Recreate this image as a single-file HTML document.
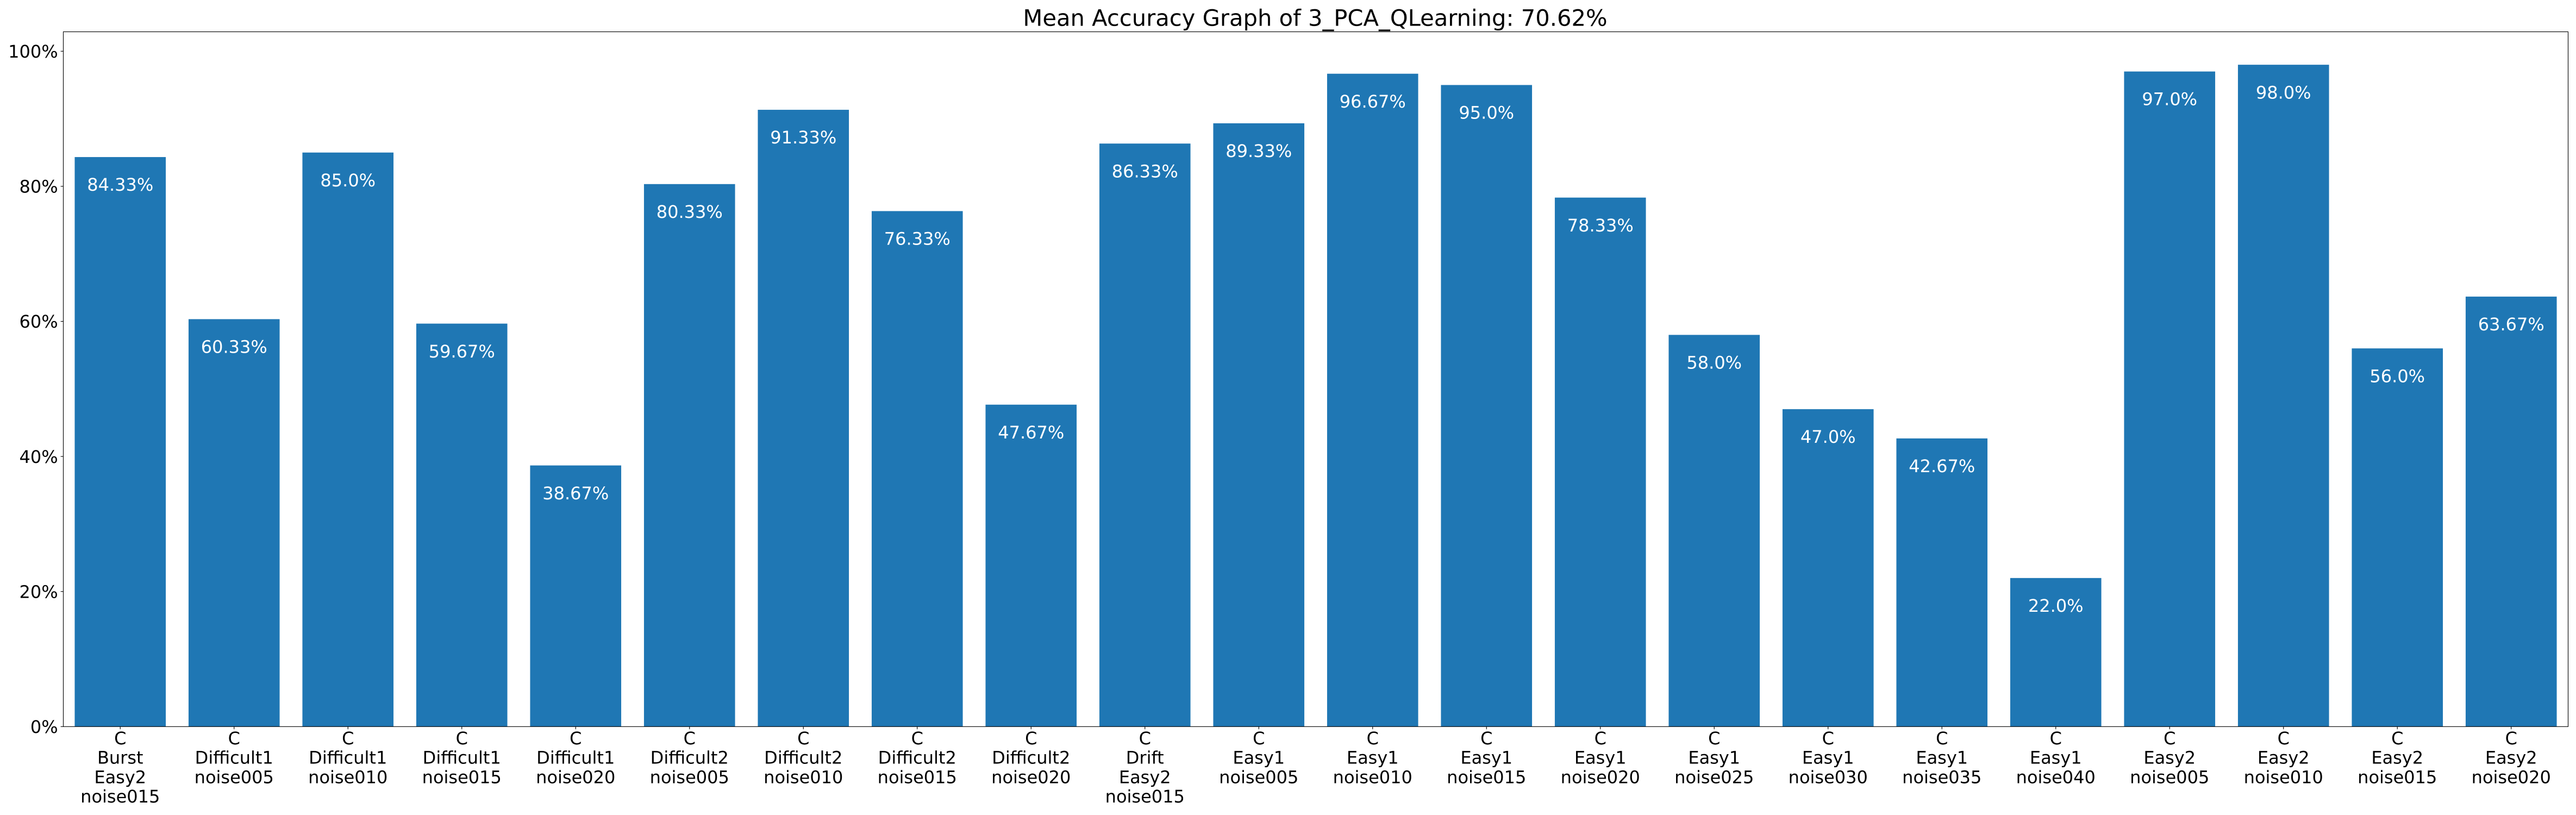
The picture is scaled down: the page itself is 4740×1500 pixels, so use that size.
<!DOCTYPE html>
<html lang="en">
<head>
<meta charset="utf-8">
<title>Mean Accuracy Graph of 3_PCA_QLearning: 70.62%</title>
<style>
  html, body { margin: 0; padding: 0; background: #fff; }
  svg { display: block; }
  text { font-family: "DejaVu Sans", "Liberation Sans", sans-serif; text-rendering: geometricPrecision; }
</style>
</head>
<body>
<svg id="chart" xmlns="http://www.w3.org/2000/svg" width="4740" height="1500" viewBox="0 0 4740 1500">
  <rect x="0" y="0" width="4740" height="1500" fill="#ffffff"/>
  <text x="2420" y="47.5" font-size="41.67" text-anchor="middle" fill="#000000">Mean Accuracy Graph of 3_PCA_QLearning: 70.62%</text>
  <g id="bars"></g>
  <g id="value-labels"></g>
  <g id="y-axis"></g>
  <g id="x-axis"></g>
  <rect x="116.5" y="58.5" width="4609" height="1278.8" fill="none" stroke="#000000" stroke-width="1.11"/>
</svg>
<script>
const categories = [
  "C\nBurst\nEasy2\nnoise015",
  "C\nDifficult1\nnoise005",
  "C\nDifficult1\nnoise010",
  "C\nDifficult1\nnoise015",
  "C\nDifficult1\nnoise020",
  "C\nDifficult2\nnoise005",
  "C\nDifficult2\nnoise010",
  "C\nDifficult2\nnoise015",
  "C\nDifficult2\nnoise020",
  "C\nDrift\nEasy2\nnoise015",
  "C\nEasy1\nnoise005",
  "C\nEasy1\nnoise010",
  "C\nEasy1\nnoise015",
  "C\nEasy1\nnoise020",
  "C\nEasy1\nnoise025",
  "C\nEasy1\nnoise030",
  "C\nEasy1\nnoise035",
  "C\nEasy1\nnoise040",
  "C\nEasy2\nnoise005",
  "C\nEasy2\nnoise010",
  "C\nEasy2\nnoise015",
  "C\nEasy2\nnoise020"
];
const accuracyValues = [84.33, 60.33, 85.0, 59.67, 38.67, 80.33, 91.33, 76.33, 47.67, 86.33, 89.33, 96.67, 95.0, 78.33, 58.0, 47.0, 42.67, 22.0, 97.0, 98.0, 56.0, 63.67];
const yTickValues = [0, 20, 40, 60, 80, 100];

const NS = "http://www.w3.org/2000/svg";
const plotLeft = 116.5, plotWidth = 4609, zeroY = 1337.3, hundredY = 94.3;
const fontSize = 32, lineStep = 35.7, tickLen = 4.86, axisColor = "#000000";

function xScale(i) { return plotLeft + (i + 0.5) * plotWidth / categories.length; }
function bandWidth() { return 0.8 * plotWidth / categories.length; }
function yScale(v) { return zeroY + (hundredY - zeroY) * v / 100; }
function formatValue(v) { return (Number.isInteger(v) ? v.toFixed(1) : String(v)) + "%"; }
function make(tag, attrs, text) {
  const el = document.createElementNS(NS, tag);
  for (const k in attrs) el.setAttribute(k, attrs[k]);
  if (text !== undefined) el.textContent = text;
  return el;
}

const barsGroup = document.getElementById("bars");
const valueGroup = document.getElementById("value-labels");
const yGroup = document.getElementById("y-axis");
const xGroup = document.getElementById("x-axis");

accuracyValues.forEach(function (v, i) {
  const w = bandWidth();
  const bar = make("rect", { x: xScale(i) - w / 2, y: yScale(v), width: w, height: zeroY - yScale(v), fill: "#1f77b4" });
  
  
  barsGroup.appendChild(bar);

  const label = make("text", { x: xScale(i), y: yScale(v - 5), "font-size": fontSize, "text-anchor": "middle", fill: "#ffffff" }, formatValue(v));
  
  
  valueGroup.appendChild(label);
});

yTickValues.forEach(function (t) {
  const y = yScale(t);
  const mark = make("line", { x1: plotLeft - tickLen, x2: plotLeft, y1: y, y2: y, stroke: axisColor, "stroke-width": 1.11 });
  
  
  yGroup.appendChild(mark);

  const label = make("text", { x: 106.6, y: y + 11.7, "font-size": fontSize, "text-anchor": "end", fill: axisColor }, t + "%");
  
  
  yGroup.appendChild(label);
});

categories.forEach(function (c, i) {
  const x = xScale(i);
  const mark = make("line", { x1: x, x2: x, y1: zeroY, y2: zeroY + tickLen, stroke: axisColor, "stroke-width": 1.11 });
  
  
  xGroup.appendChild(mark);

  const label = make("text", { "font-size": fontSize, "text-anchor": "middle", fill: axisColor });
  
  
  c.split("\n").forEach(function (line, j) {
    label.appendChild(make("tspan", { x: x, y: 1370 + j * lineStep }, line));
  });
  xGroup.appendChild(label);
});
</script>
</body>
</html>
